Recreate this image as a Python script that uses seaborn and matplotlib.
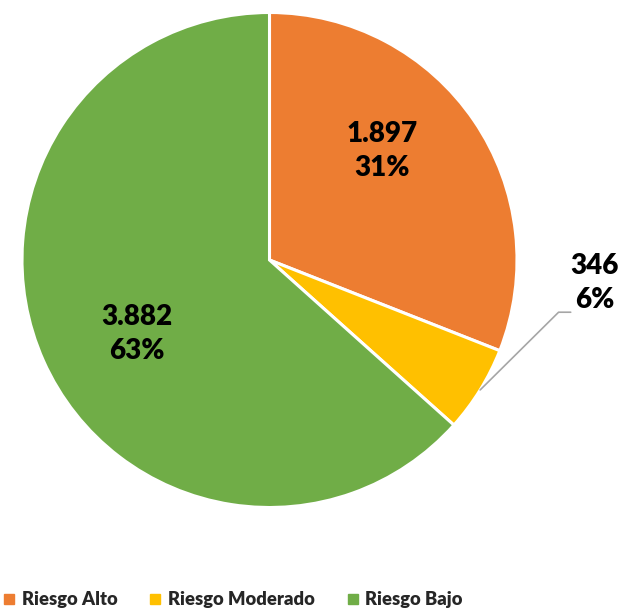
import matplotlib
matplotlib.use("Agg")
import matplotlib.pyplot as plt
import seaborn as sns
import numpy as np

categories = ["Riesgo Alto", "Riesgo Moderado", "Riesgo Bajo"]
values = [1897, 346, 3882]
value_labels = ["1.897", "346", "3.882"]
colors = ["#ED7D31", "#FFC000", "#70AD47"]

sns.set_theme(style="white")
plt.rcParams["font.family"] = ["Lato", "DejaVu Sans"]

fig = plt.figure(figsize=(6.23, 6.12), dpi=100)
ax = fig.add_axes([22 / 623, 1 - 508 / 612, 495 / 623, 496 / 612])

total = sum(values)
pcts = [round(100 * v / total) for v in values]

wedges, _ = ax.pie(values, colors=sns.color_palette(colors), startangle=90,
                   counterclock=False, radius=1,
                   wedgeprops=dict(edgecolor="white", linewidth=2.2))
ax.set_xlim(-1, 1)
ax.set_ylim(-1, 1)
ax.set_aspect("equal")
ax.axis("off")

# label positions (fraction of radius)
label_pos = [(0.455, 0.44), (1.314, -0.093), (-0.536, -0.30)]
for (x, y), vl, p in zip(label_pos, value_labels, pcts):
    ax.text(x, y, f"{vl}\n{p}%", ha="center", va="center", fontsize=20,
            fontweight="heavy", color="black", linespacing=1.4)

# leader line for the small slice
w = wedges[1]
mid = np.deg2rad((w.theta1 + w.theta2) / 2)
x0, y0 = np.cos(mid), np.sin(mid)
ax.plot([x0, 1.168, 1.217], [y0, -0.211, -0.211], color="#A6A6A6",
        lw=1.2, clip_on=False)

handles = [plt.Line2D([], [], marker="s", linestyle="", markersize=6.5,
                      markerfacecolor=c, markeredgecolor=c) for c in colors]
fig.legend(handles, categories, loc="center left",
           bbox_to_anchor=(0.0, 12 / 612), ncol=3, frameon=False,
           prop=dict(size=13.2, weight="heavy"), handlelength=0.6,
           handletextpad=0.4, columnspacing=1.75, borderaxespad=0,
           borderpad=0.2)

fig.savefig("out.png", dpi=100)
